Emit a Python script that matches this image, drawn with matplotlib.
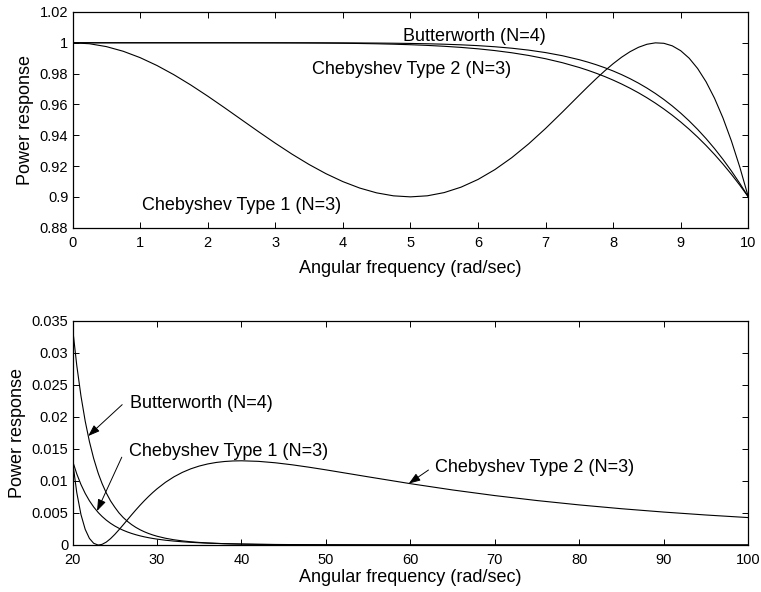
import matplotlib
matplotlib.use("Agg")
import matplotlib.pyplot as plt

plt.rcParams['font.family'] = ['Liberation Sans', 'DejaVu Sans']

# ---- passband (0 .. 10 rad/s) ----
w_pass = [0.0, 0.25, 0.5, 0.75, 1.0, 1.25, 1.5, 1.75, 2.0, 2.25, 2.5, 2.75, 3.0,
          3.25, 3.5, 3.75, 4.0, 4.25, 4.5, 4.75, 5.0, 5.25, 5.5, 5.75, 6.0, 6.25,
          6.5, 6.75, 7.0, 7.25, 7.5, 7.625, 7.75, 7.875, 8.0, 8.125, 8.25,
          8.375, 8.5, 8.625, 8.75, 8.875, 9.0, 9.125, 9.25, 9.375, 9.5, 9.625,
          9.75, 9.875, 10.0]
butter_pass = [1.0, 1.0, 1.0, 1.0, 1.0, 1.0, 1.0, 1.0, 1.0, 1.0, 1.0, 0.999996,
               0.999993, 0.999986, 0.999975, 0.999957, 0.999927, 0.999882,
               0.999813, 0.999712, 0.999566, 0.999359, 0.999070, 0.998674,
               0.998137, 0.997420, 0.996472, 0.995235, 0.993635, 0.991590,
               0.988998, 0.987463, 0.985746, 0.983831, 0.981700, 0.979333,
               0.976710, 0.973811, 0.970613, 0.967093, 0.963225, 0.958987,
               0.954353, 0.949298, 0.943796, 0.937821, 0.931348, 0.924352,
               0.916808, 0.908699, 0.9]
cheb1_pass = [1.0, 0.999376, 0.997523, 0.994490, 0.990359, 0.985240, 0.979269,
              0.972597, 0.965394, 0.957835, 0.950103, 0.942380, 0.934845,
              0.927671, 0.921023, 0.915053, 0.909905, 0.905715, 0.902599,
              0.900663, 0.9, 0.900685, 0.902777, 0.906311, 0.911290, 0.917694,
              0.925445, 0.934411, 0.944388, 0.955070, 0.966038, 0.971459,
              0.976729, 0.981751, 0.986420, 0.990616, 0.994210, 0.997064,
              0.999030, 0.999951, 0.999668, 0.998018, 0.994843, 0.989988,
              0.983312, 0.974693, 0.964029, 0.951247, 0.936309, 0.919214, 0.9]
cheb2_pass = [1.0, 1.0, 1.0, 1.0, 1.0, 1.0, 1.0, 1.0, 1.0, 1.0, 0.999982,
              0.999967, 0.999945, 0.999910, 0.999859, 0.999785, 0.999681,
              0.999537, 0.999342, 0.999082, 0.998740, 0.998295, 0.997723,
              0.996996, 0.996080, 0.994935, 0.993517, 0.991774, 0.989644,
              0.987061, 0.983947, 0.982165, 0.980216, 0.978091, 0.975772,
              0.973249, 0.970507, 0.967532, 0.964307, 0.960818, 0.957048,
              0.952978, 0.948594, 0.943875, 0.938804, 0.933364, 0.927536,
              0.921307, 0.914654, 0.907555, 0.9]

# ---- stopband (20 .. 100 rad/s) ----
w_stop = [20, 20.5, 21, 21.5, 22, 22.5, 23, 23.1, 23.5, 24, 24.5, 25, 25.5, 26,
          26.5, 27, 27.5, 28, 28.5, 29, 29.5, 30, 31, 32, 33, 34, 35, 36, 37,
          38, 39, 40, 42, 44, 46, 48, 50, 55, 60, 65, 70, 75, 80, 85, 90, 95,
          100]
butter_stop = [0.033962, 0.028045, 0.023242, 0.019331, 0.016136, 0.013517,
               0.011362, 0.010979, 0.0095831, 0.0081098, 0.0068851, 0.0058983,
               0.0050090, 0.0042913, 0.0036873, 0.0031766, 0.0027442,
               0.0023766, 0.0020635, 0.0017959, 0.0015667, 0.0013699,
               0.0010541, 0.00081786, 0.00063952, 0.00050373, 0.00039952,
               0.00031892, 0.00025616, 0.00020696, 0.00016813, 0.00013731,
               9.295e-5, 6.406e-5, 4.489e-5, 3.194e-5, 2.304e-5, 1.075e-5,
               5.36e-6, 2.8e-6, 1.56e-6, 9.0e-7, 5.4e-7, 3.3e-7, 2.1e-7,
               1.4e-7, 9e-8]
cheb1_stop = [0.013139, 0.011105, 0.0094322, 0.0080490, 0.0068995, 0.0059390,
              0.0051324, 0.0049870, 0.0044520, 0.0038756, 0.0033852,
              0.0029664, 0.0026073, 0.0022984, 0.0020317, 0.0018008,
              0.0016001, 0.0014253, 0.0012725, 0.0011386, 0.0010210,
              0.00091743, 0.00074511, 0.00060958, 0.00050211, 0.00041623,
              0.00034709, 0.00029105, 0.00024533, 0.00020781, 0.00017684,
              0.00015115, 0.00011177, 8.389e-5, 6.381e-5, 4.914e-5, 3.826e-5,
              2.137e-5, 1.257e-5, 7.73e-6, 4.93e-6, 3.25e-6, 2.20e-6, 1.52e-6,
              1.08e-6, 7.8e-7, 5.7e-7]
cheb2_stop = [0.013139, 0.0081910, 0.0047417, 0.0024457, 0.0010277,
              0.00027089, 6.08e-6, 0.0, 0.00010182, 0.00045636, 0.00099139,
              0.0016469, 0.0023776, 0.0031480, 0.0039336, 0.0047141,
              0.0054765, 0.0062107, 0.0069096, 0.0075693, 0.0081870,
              0.0087617, 0.0097807, 0.010632, 0.011329, 0.011886, 0.012319,
              0.012645, 0.012877, 0.013029, 0.013113, 0.013139, 0.013052,
              0.012829, 0.012513, 0.012137, 0.011725, 0.010636, 0.0095686,
              0.0085864, 0.0077080, 0.0069331, 0.0062534, 0.0056584,
              0.0051371, 0.0046796, 0.0042766]

pass_xticks = [0, 1, 2, 3, 4, 5, 6, 7, 8, 9, 10]
pass_yticks = [0.88, 0.90, 0.92, 0.94, 0.96, 0.98, 1.00, 1.02]
pass_ylabels = ['0.88', '0.9', '0.92', '0.94', '0.96', '0.98', '1', '1.02']
stop_xticks = [20, 30, 40, 50, 60, 70, 80, 90, 100]
stop_yticks = [0, 0.005, 0.01, 0.015, 0.02, 0.025, 0.03, 0.035]
stop_ylabels = ['0', '0.005', '0.01', '0.015', '0.02', '0.025', '0.03', '0.035']

TICK_FS = 10.5
LABEL_FS = 13
NOTE_FS = 13
LW = 0.8

fig = plt.figure(figsize=(7.61, 5.92), dpi=100)
ax1 = fig.add_axes([0.0953, 0.6154, 0.8880, 0.3644])
ax2 = fig.add_axes([0.0953, 0.0794, 0.8880, 0.3789])


def style(ax, xticks, yticks, ylabels, xlim, ylim, xlabelpad):
    ax.set_xlim(*xlim)
    ax.set_ylim(*ylim)
    ax.set_xticks(xticks, [str(t) for t in xticks])
    ax.set_yticks(yticks, ylabels)
    ax.tick_params(direction='in', length=4.3, width=0.7, top=True,
                   right=True, labelsize=TICK_FS, color='black')
    ax.tick_params(axis='x', pad=6)
    ax.tick_params(axis='y', pad=3)
    for s in ax.spines.values():
        s.set_linewidth(0.9)
    ax.set_xlabel('Angular frequency (rad/sec)', fontsize=LABEL_FS,
                  labelpad=xlabelpad)
    ax.set_ylabel('Power response', fontsize=LABEL_FS, labelpad=4)


# passband responses
ax1.plot(w_pass, butter_pass, color='black', lw=LW)
ax1.plot(w_pass, cheb1_pass, color='black', lw=LW)
ax1.plot(w_pass, cheb2_pass, color='black', lw=LW)
style(ax1, pass_xticks, pass_yticks, pass_ylabels, (0, 10), (0.88, 1.02), 7.5)
ax1.text(4.89, 1.0014, 'Butterworth (N=4)', fontsize=NOTE_FS, va='baseline')
ax1.text(3.55, 0.9798, 'Chebyshev Type 2 (N=3)', fontsize=NOTE_FS, va='baseline')
ax1.text(1.03, 0.8912, 'Chebyshev Type 1 (N=3)', fontsize=NOTE_FS, va='baseline')

# stopband responses
ax2.plot(w_stop, butter_stop, color='black', lw=LW)
ax2.plot(w_stop, cheb1_stop, color='black', lw=LW)
ax2.plot(w_stop, cheb2_stop, color='black', lw=LW)
style(ax2, stop_xticks, stop_yticks, stop_ylabels, (20, 100), (0, 0.035), 1.5)

arrow = dict(arrowstyle='-|>,head_length=0.7,head_width=0.25', color='black',
             lw=0.7, shrinkA=0, shrinkB=0, mutation_scale=10)
ax2.text(26.78, 0.02138, 'Butterworth (N=4)', fontsize=NOTE_FS, va='baseline')
ax2.annotate('', xy=(21.85, 0.0170), xytext=(25.88, 0.0219), arrowprops=arrow)
ax2.text(26.67, 0.01389, 'Chebyshev Type 1 (N=3)', fontsize=NOTE_FS, va='baseline')
ax2.annotate('', xy=(22.9, 0.0053), xytext=(25.83, 0.0137), arrowprops=arrow)
ax2.text(62.96, 0.01144, 'Chebyshev Type 2 (N=3)', fontsize=NOTE_FS, va='baseline')
ax2.annotate('', xy=(59.8, 0.00958), xytext=(62.14, 0.0117), arrowprops=arrow)

fig.savefig('out.png', dpi=100)
